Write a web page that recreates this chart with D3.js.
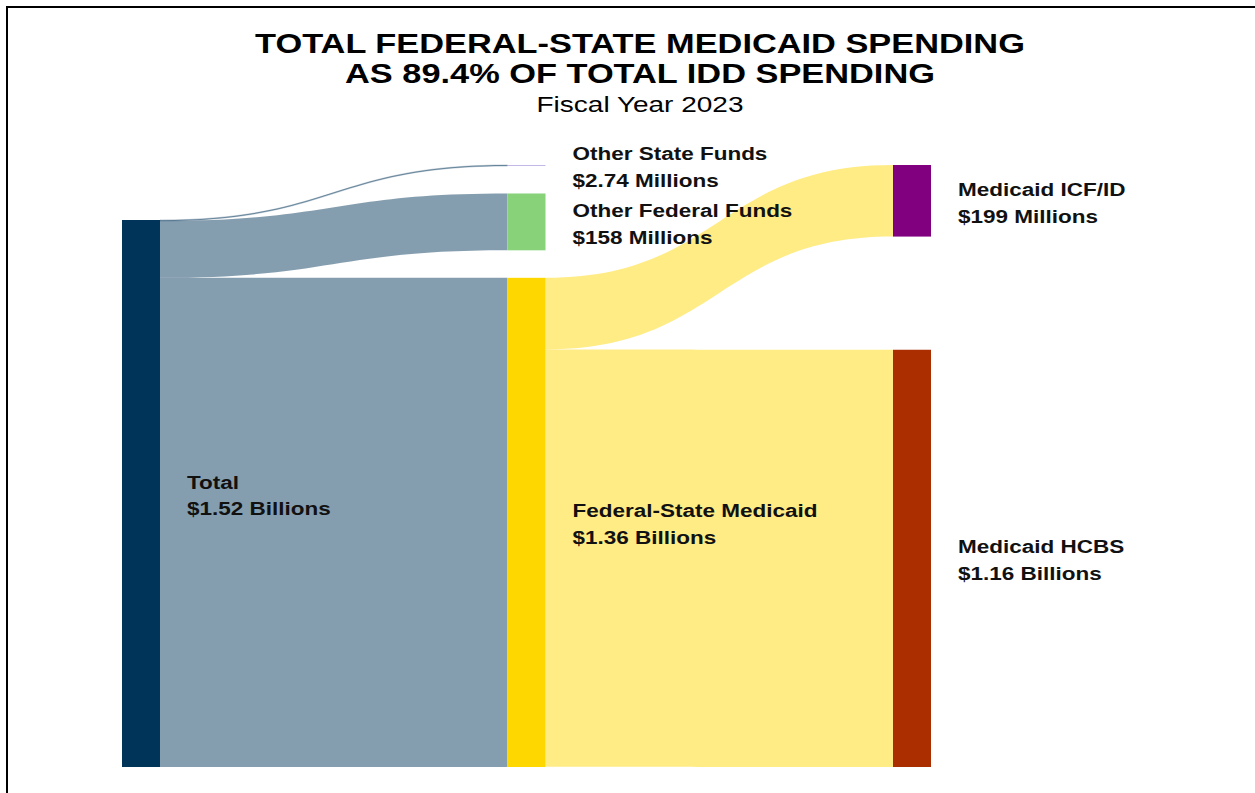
<!DOCTYPE html>
<html>
<head>
<meta charset="utf-8">
<script src="https://cdn.jsdelivr.net/npm/d3@7"></script>
<style>
  html, body { margin: 0; padding: 0; background: #fff; }
  svg { display: block; font-family: "Liberation Sans", Arial, sans-serif; }
</style>
</head>
<body>
<svg id="chart" width="1255" height="793"></svg>
<script>
// ---- data (values in $ millions) ----
const nodeNames = ["Total", "Other State Funds", "Other Federal Funds", "Federal-State Medicaid", "Medicaid ICF/ID", "Medicaid HCBS"];
const nodeLabels = ["$1.52 Billions", "$2.74 Millions", "$158 Millions", "$1.36 Billions", "$199 Millions", "$1.16 Billions"];
const nodeColumns = [0, 1, 1, 1, 2, 2];
const nodeColors = ["#003458", "#c6b8e6", "#88d27a", "#ffd700", "#800080", "#aa2e00"];
const linkSources = [0, 0, 0, 3, 3];
const linkTargets = [1, 2, 3, 4, 5];
const linkValues = [2.74, 158, 1360, 199, 1160];
const titleLines = ["TOTAL FEDERAL-STATE MEDICAID SPENDING", "AS 89.4% OF TOTAL IDD SPENDING"];
const subtitle = "Fiscal Year 2023";

(function () {
const W = 1255, H = 793, SX = 1.25;
const svg = d3.select("#chart");

// frame
svg.append("path")
  .attr("d", d3.line()([[7, H + 5], [7, 7], [W + 5, 7]]))
  .attr("fill", "none").attr("stroke", "#000").attr("stroke-width", 2);

// titles (source image text is horizontally stretched)
svg.append("g").selectAll("text").data(titleLines).join("text")
  .attr("transform", (d, i) => `translate(640,${53 + i * 30}) scale(${SX},1)`)
  .attr("text-anchor", "middle")
  .attr("font-size", 27.5).attr("font-weight", "bold").attr("fill", "#000")
  .text(d => d);
svg.append("text").attr("transform", `translate(640,112) scale(${SX},1)`)
  .attr("text-anchor", "middle").attr("font-size", 22.4).attr("fill", "#000")
  .text(subtitle);

// ---- layout ----
const yTop = 165, yBottom = 767, nodeW = 38;
const nodes = nodeNames.map((name, i) => ({ i, name, label: nodeLabels[i], col: nodeColumns[i], color: nodeColors[i], inV: 0, outV: 0 }));
const links = linkValues.map((v, i) => ({ source: nodes[linkSources[i]], target: nodes[linkTargets[i]], value: v }));
links.forEach(l => { l.source.outV += l.value; l.target.inV += l.value; });
nodes.forEach(n => n.value = Math.max(n.inV, n.outV));

const maxColSum = d3.max(d3.rollups(nodes, v => d3.sum(v, d => d.value), d => d.col), d => d[1]);
const ky = d3.scaleLinear().domain([0, maxColSum]).range([0, 547]);
const xCol = d3.scaleLinear().domain([0, 2]).range([122, 893]);

d3.groups(nodes, d => d.col).forEach(([col, ns]) => {
  const sum = d3.sum(ns, d => ky(d.value));
  if (ns.length === 1) {
    ns[0].y1 = yBottom; ns[0].y0 = yBottom - ky(ns[0].value);
  } else {
    const gap = (yBottom - yTop - sum) / (ns.length - 1);
    let y = yTop;
    ns.forEach(n => { n.y0 = y; n.y1 = y + ky(n.value); y = n.y1 + gap; });
  }
  ns.forEach(n => { n.x0 = xCol(col); n.x1 = n.x0 + nodeW; });
});
nodes.forEach(n => {
  let sy = n.y0, ty = n.y0;
  links.filter(l => l.source === n).forEach(l => { l.sy0 = sy; sy += ky(l.value); l.sy1 = sy; });
  links.filter(l => l.target === n).forEach(l => { l.ty0 = ty; ty += ky(l.value); l.ty1 = ty; });
});

function linkPath(l) {
  const x0 = l.source.x1, x1 = l.target.x0, xm = (x0 + x1) / 2;
  return `M${x0},${l.sy0}C${xm},${l.sy0} ${xm},${l.ty0} ${x1},${l.ty0}` +
         `L${x1},${l.ty1}C${xm},${l.ty1} ${xm},${l.sy1} ${x0},${l.sy1}Z`;
}

svg.append("g").selectAll("path").data(links).join("path")
  .attr("d", linkPath)
  .attr("fill", d => d.source.color).attr("fill-opacity", 0.48)
  .attr("stroke", d => d.source.color).attr("stroke-opacity", 0.4)
  .attr("stroke-width", d => ky(d.value) < 2 ? 0.6 : 0);

svg.append("g").selectAll("rect").data(nodes).join("rect")
  .attr("x", d => d.x0).attr("y", d => d.y0)
  .attr("width", d => d.x1 - d.x0).attr("height", d => Math.max(1, d.y1 - d.y0))
  .attr("fill", d => d.color);

const lab = svg.append("g").selectAll("text").data(nodes).join("text")
  .attr("transform", d => `translate(${d.x1 + 27},${(d.y0 + d.y1) / 2}) scale(${SX},1)`)
  .attr("font-size", 18).attr("font-weight", "bold").attr("fill", "#111");
lab.append("tspan").attr("x", 0).attr("y", -5).text(d => d.name);
lab.append("tspan").attr("x", 0).attr("y", 22).text(d => d.label);
})();
</script>
</body>
</html>
